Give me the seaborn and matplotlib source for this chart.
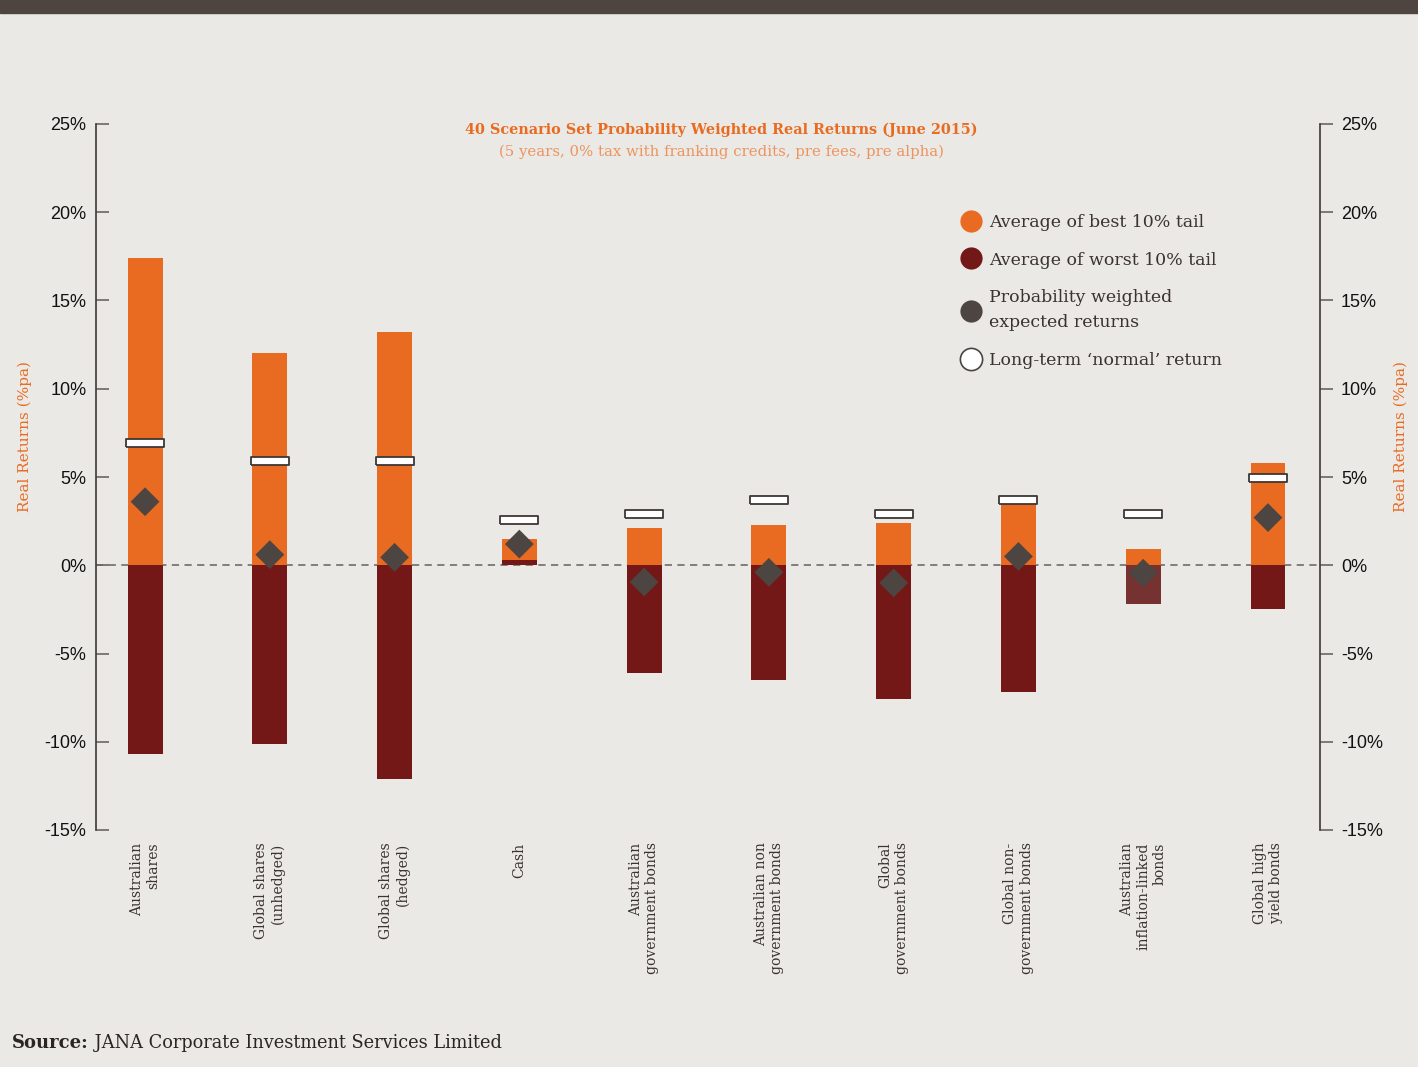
import numpy as np
import matplotlib.pyplot as plt
from matplotlib.lines import Line2D
from matplotlib.patches import Rectangle
import seaborn as sns

# Data (% p.a.)
categories = [
    "Australian\nshares",
    "Global shares\n(unhedged)",
    "Global shares\n(hedged)",
    "Cash",
    "Australian\ngovernment bonds",
    "Australian non\ngovernment bonds",
    "Global\ngovernment bonds",
    "Global non-\ngovernment bonds",
    "Australian\ninflation-linked\nbonds",
    "Global high\nyield bonds",
]
best_tail = [17.4, 12.0, 13.2, 1.5, 2.1, 2.3, 2.4, 3.5, 0.9, 5.8]
worst_tail = [-10.7, -10.1, -12.1, 0.3, -6.1, -6.5, -7.6, -7.2, -2.2, -2.5]
expected = [3.6, 0.6, 0.45, 1.2, -0.95, -0.4, -1.0, 0.5, -0.45, 2.7]
normal = [6.9, 5.9, 5.9, 2.55, 2.9, 3.7, 2.9, 3.7, 2.9, 4.95]
y_ticks = [-15, -10, -5, 0, 5, 10, 15, 20, 25]

# Colours
BG = "#ebe9e5"
ORANGE = "#e96b21"
DARK_RED = "#731817"
MUTED_RED = "#763230"
DIAMOND = "#4d4541"
TEXT = "#3a3330"
SUBTITLE = "#ec9460"

sns.set_style("white", {"axes.facecolor": BG, "figure.facecolor": BG})
plt.rcParams["font.family"] = ["DejaVu Serif"]
SANS = ["Liberation Sans", "DejaVu Sans"]

fig = plt.figure(figsize=(14.18, 10.67), dpi=100)
ax = fig.add_axes([96 / 1418, 1 - 830 / 1067, 1224 / 1418, 706 / 1067])

# zero line
ax.axhline(0, color="#7a7572", lw=1.3, ls=(0, (4, 3)), zorder=0.5)

# best / worst tails
sns.barplot(x=categories, y=best_tail, color=ORANGE, saturation=1,
            width=0.28, linewidth=0, edgecolor="none", ax=ax, zorder=2)
worst_cols = [MUTED_RED if "inflation" in c else DARK_RED for c in categories]
sns.barplot(x=categories, y=worst_tail, hue=categories, palette=worst_cols,
            saturation=1, width=0.28, linewidth=0, edgecolor="none",
            legend=False, ax=ax, zorder=2)

# long-term normal return markers (flat white boxes)
box = [(-1, -0.21), (1, -0.21), (1, 0.21), (-1, 0.21), (-1, -0.21)]
sns.scatterplot(x=categories, y=normal, marker=box, s=760, color="white",
                edgecolor="#3d3735", linewidth=1.3, ax=ax, zorder=4)

# probability weighted expected returns
sns.scatterplot(x=categories, y=expected, marker="D", s=215, color=DIAMOND,
                edgecolor="none", ax=ax, zorder=5)

ax.set_xlim(-0.393, 9.417)
ax.set_ylim(-15, 25)
ax.set_yticks(y_ticks)
ax.set_yticklabels([f"{v}%" for v in y_ticks], family=SANS, fontsize=13)
ax.tick_params(axis="y", direction="in", length=9, width=1.2, color="#6b6663",
               pad=7, labelcolor="#111111")
ax.tick_params(axis="x", length=0, pad=9)
for lab in ax.get_xticklabels():
    lab.set_rotation(90)
    lab.set_ha("center")
    lab.set_va("top")
    lab.set_multialignment("right")
    lab.set_fontsize(10)
    lab.set_color(TEXT)
ax.set_xlabel("")
ax.set_ylabel("Real Returns (%pa)", color=ORANGE, fontsize=11)
ax.yaxis.set_label_coords(-0.052, 0.557)

for side in ["top", "bottom"]:
    ax.spines[side].set_visible(False)
ax.spines["left"].set_color("#4a4542")
ax.spines["left"].set_linewidth(1.3)
ax.spines["right"].set_visible(False)

# right-hand axis
ax2 = ax.twinx()
ax2.set_ylim(-15, 25)
ax2.set_yticks(y_ticks)
ax2.set_yticklabels([f"{v}%" for v in y_ticks], family=SANS, fontsize=13)
ax2.tick_params(axis="y", direction="out", length=9, width=1.2, color="#6b6663",
                pad=6, labelcolor="#111111")
for side in ["top", "bottom", "left"]:
    ax2.spines[side].set_visible(False)
ax2.spines["right"].set_color("#4a4542")
ax2.spines["right"].set_linewidth(1.3)
ax2.set_ylabel("Real Returns (%pa)", color=ORANGE, fontsize=11, rotation=90)
ax2.yaxis.set_label_coords(1.060, 0.557)

# titles
fig.text(721 / 1418, 1 - 130 / 1067,
         "40 Scenario Set Probability Weighted Real Returns (June 2015)",
         ha="center", va="center", color=ORANGE, fontsize=10.4, fontweight="bold")
fig.text(721 / 1418, 1 - 152 / 1067,
         "(5 years, 0% tax with franking credits, pre fees, pre alpha)",
         ha="center", va="center", color=SUBTITLE, fontsize=10.7)

# legend
handles = [
    Line2D([], [], ls="none", marker="o", ms=16, mfc=ORANGE, mec="none"),
    Line2D([], [], ls="none", marker="o", ms=16, mfc=DARK_RED, mec="none"),
    Line2D([], [], ls="none", marker="o", ms=16, mfc=DIAMOND, mec="none"),
    Line2D([], [], ls="none", marker="o", ms=16, mfc="white", mec="#4a4542", mew=1.2),
]
labels = [
    "Average of best 10% tail",
    "Average of worst 10% tail",
    "Probability weighted\nexpected returns",
    "Long-term \u2018normal\u2019 return",
]
leg = fig.legend(handles, labels, loc="upper left",
                 bbox_to_anchor=(952 / 1418, 1 - 205 / 1067),
                 frameon=False, fontsize=12.5, handletextpad=0.45,
                 labelspacing=1.2, handlelength=1.2, borderpad=0)
for t in leg.get_texts():
    t.set_color(TEXT)
    t.set_linespacing(1.6)

# top band
fig.patches.append(Rectangle((0, 1 - 13 / 1067), 1, 13 / 1067,
                             transform=fig.transFigure, color="#4e4540", zorder=0))

# source line
src = fig.text(12 / 1418, 1 - 1043 / 1067, "Source:", ha="left", va="center",
               fontsize=13, fontweight="bold", color="#2b2624")
ax.annotate(" JANA Corporate Investment Services Limited", xy=(1, 0.5),
            xycoords=src, ha="left", va="center", fontsize=12.8, color="#2b2624",
            annotation_clip=False)

fig.savefig("out.png", dpi=100, facecolor=BG)
